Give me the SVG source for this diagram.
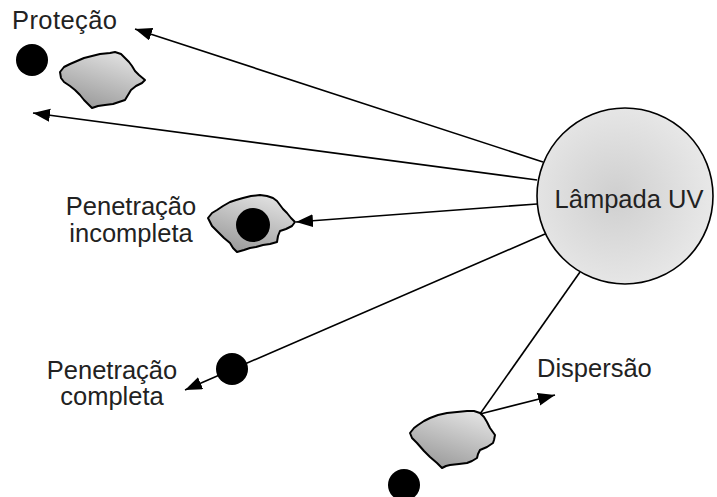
<svg xmlns="http://www.w3.org/2000/svg" width="717" height="497" viewBox="0 0 717 497">
<defs>
<radialGradient id="lamp" cx="0.45" cy="0.5" r="0.55">
<stop offset="0" stop-color="#cfcfcf"/>
<stop offset="1" stop-color="#e8e8e8"/>
</radialGradient>
<linearGradient id="blob" x1="0.8" y1="0" x2="0.3" y2="1">
<stop offset="0" stop-color="#e4e4e4"/>
<stop offset="1" stop-color="#9a9a9a"/>
</linearGradient>
<marker id="ah" markerUnits="userSpaceOnUse" markerWidth="18" markerHeight="14" refX="17" refY="6.5" orient="auto">
<path d="M0,0 L17,6.5 L0,13 z" fill="#000"/>
</marker>
</defs>
<style>
.t{font-family:"Liberation Sans",Arial,sans-serif;font-size:25.5px;fill:#222}
.c{stroke:#000;stroke-width:1.6;fill:none}
.b{fill:url(#blob);stroke:#000;stroke-width:2;stroke-linejoin:round}
.d{fill:#000}
</style>
<g id="connectors">
<line class="c" x1="543" y1="162" x2="135" y2="29" marker-end="url(#ah)"/>
<line class="c" x1="537" y1="180" x2="33" y2="113" marker-end="url(#ah)"/>
<line class="c" x1="537" y1="204" x2="296" y2="222" marker-end="url(#ah)"/>
<line class="c" x1="545" y1="234" x2="185" y2="390" marker-end="url(#ah)"/>
<line class="c" x1="580" y1="272" x2="480" y2="414"/>
<line class="c" x1="480" y1="414" x2="555" y2="395" marker-end="url(#ah)"/>
</g>
<g id="lampada">
<circle cx="625" cy="196" r="88" fill="url(#lamp)" stroke="#000" stroke-width="1.6"/>
<text class="t" x="629" y="208" text-anchor="middle">Lâmpada UV</text>
</g>
<g id="protecao">
<text class="t" x="12" y="29" textLength="105">Proteção</text>
<circle class="d" cx="32" cy="60" r="16"/>
<polygon class="b" points="60,72 64,67 70,64 77,61 84,58 92,56 100,54 110,53 115,52 121,54 125,58 129,62 132,66 135,71 139,75 145,80 142,83 136,86 131,90 128,95 125,100 119,102 113,104 105,105 98,106 92,108 88,104 84,100 80,95 75,90 70,86 64,82 61,78"/>
</g>
<g id="penetracao-incompleta">
<text class="t" x="131" y="215" text-anchor="middle">Penetração</text>
<text class="t" x="131" y="242" text-anchor="middle">incompleta</text>
<polygon class="b" points="208,218 212,213 217,210 223,206 230,202 236,200 243,198 251,196 260,195 267,196 273,198 277,201 280,205 283,209 287,213 291,218 295,222 292,226 286,229 280,231 278,236 277,242 270,244 263,245 256,247 250,248 244,250 237,252 233,248 230,243 224,238 218,232 212,226"/>
<circle class="d" cx="253" cy="225" r="17"/>
</g>
<g id="penetracao-completa">
<text class="t" x="112" y="379" text-anchor="middle">Penetração</text>
<text class="t" x="112" y="405" text-anchor="middle">completa</text>
<circle class="d" cx="232" cy="369" r="16"/>
</g>
<g id="dispersao">
<text class="t" x="537" y="377">Dispersão</text>
<polygon class="b" points="410,433 414,428 418,425 424,421 430,418 438,415 447,413 457,412 467,411 474,411 480,413 484,417 487,422 490,428 495,435 494,440 493,443 487,447 480,450 478,454 477,458 472,461 467,463 459,464 450,465 446,466 442,468 437,463 430,457 424,451 417,443 412,438"/>
<circle class="d" cx="404" cy="485" r="16"/>
</g>
</svg>
